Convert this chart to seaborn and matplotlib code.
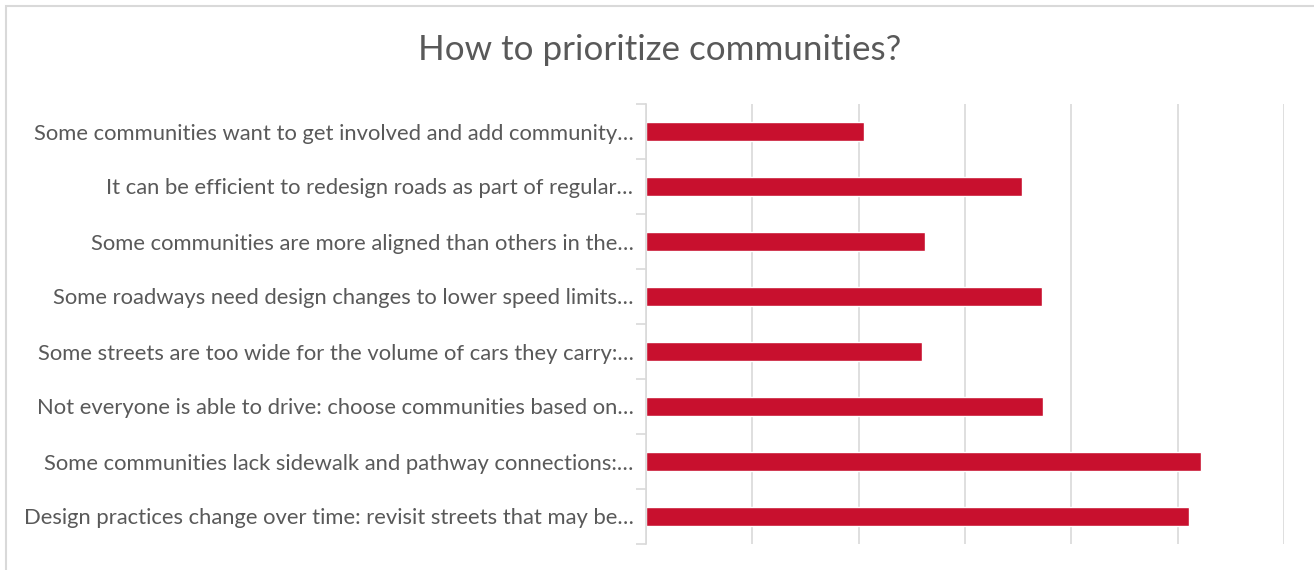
import matplotlib
matplotlib.use("Agg")
import matplotlib.pyplot as plt
import seaborn as sns
import pandas as pd
import numpy as np
from matplotlib.patches import Rectangle

categories = [
    "Some communities want to get involved and add community…",
    "It can be efficient to redesign roads as part of regular…",
    "Some communities are more aligned than others in the…",
    "Some roadways need design changes to lower speed limits…",
    "Some streets are too wide for the volume of cars they carry:…",
    "Not everyone is able to drive: choose communities based on…",
    "Some communities lack sidewalk and pathway connections:…",
    "Design practices change over time: revisit streets that may be…",
]
scores = [2.05, 3.54, 2.62, 3.72, 2.60, 3.73, 5.22, 5.11]

df = pd.DataFrame({"category": categories, "score": scores})

sns.set_theme(style="white")
plt.rcParams["font.family"] = ["Lato", "DejaVu Sans"]

W, H = 1314, 570
fig = plt.figure(figsize=(W / 100, H / 100), dpi=100)
ax = fig.add_axes([646 / W, 1 - 544 / H, (1284 - 646) / W, (544 - 104) / H])

sns.barplot(data=df, x="score", y="category", orient="h", color="#C8102E",
            width=0.355, saturation=1, ax=ax)

ax.set_xlim(0, 6)
ax.set_ylim(len(categories) - 0.5, -0.5)
ax.set_xticks(np.arange(0, 7, 1))
ax.set_xticklabels([])
ax.xaxis.grid(True, color="#d9d9d9", linewidth=1.2)
ax.set_axisbelow(True)
ax.tick_params(axis="x", length=0)
ax.tick_params(axis="y", which="major", left=False, length=0, pad=9,
               labelsize=15.8, labelcolor="#595959")
ax.set_yticks(np.arange(-0.5, len(categories), 1), minor=True)
ax.tick_params(axis="y", which="minor", left=True, length=7, width=1.2,
               color="#d9d9d9")
ax.set_xlabel("")
ax.set_ylabel("")
for s in ["top", "right", "bottom"]:
    ax.spines[s].set_visible(False)
ax.spines["left"].set_color("#d9d9d9")
ax.spines["left"].set_linewidth(1.2)

fig.text(660 / W, 1 - 50 / H, "How to prioritize communities?", ha="center",
         va="center", fontsize=25.2, color="#595959")

fig.patches.append(Rectangle((6 / W, -0.1), 1.2, 1 - 6 / H + 0.1,
                             transform=fig.transFigure, fill=False,
                             edgecolor="#d9d9d9", linewidth=1.5))

fig.savefig("out.png", dpi=100)
